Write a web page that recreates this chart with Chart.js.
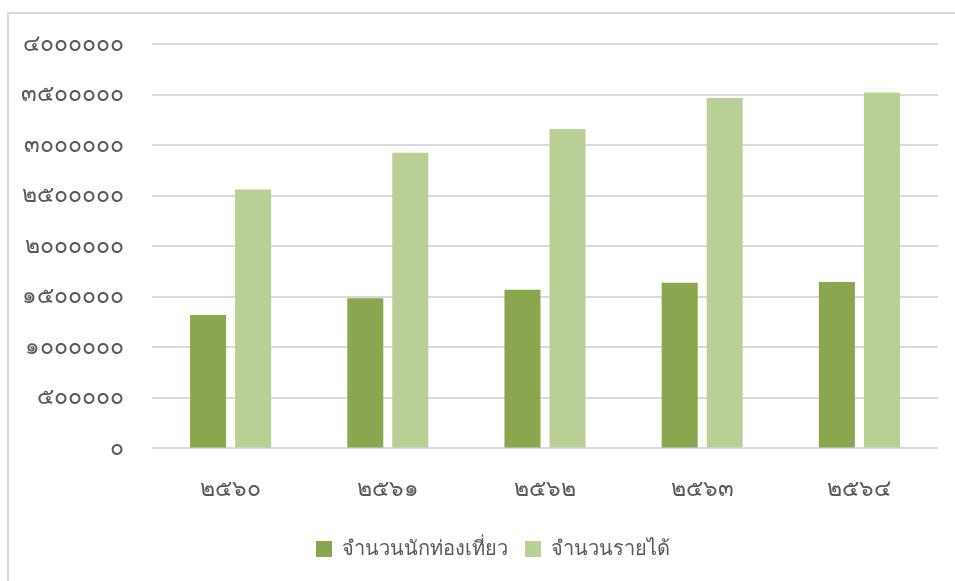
<!DOCTYPE html>
<html>
<head>
<meta charset="utf-8">
<script src="https://cdn.jsdelivr.net/npm/chart.js@4.4.1/dist/chart.umd.min.js"></script>
<style>
    html, body { margin: 0; padding: 0; background: #fff; }
    #frame {
        position: absolute; left: 7px; top: 12px; width: 960px; height: 580px;
        border-left: 2px solid #d9d9d9; border-top: 2px solid #d9d9d9;
    }
    #wrap { position: absolute; left: 0; top: 0; width: 955px; height: 581px; }
</style>
</head>
<body>
<div id="frame"></div>
<div id="wrap"><canvas id="chart"></canvas></div>
<script>
const years = ['๒๕๖๐', '๒๕๖๑', '๒๕๖๒', '๒๕๖๓', '๒๕๖๔'];
const tourists = [1320000, 1485000, 1570000, 1638000, 1645000];
const income = [2560000, 2925000, 3160000, 3465000, 3520000];
const seriesNames = ['จำนวนนักท่องเที่ยว', 'จำนวนรายได้'];

const thaiDigits = ['๐', '๑', '๒', '๓', '๔', '๕', '๖', '๗', '๘', '๙'];
const toThai = n => String(n).replace(/[0-9]/g, d => thaiDigits[d]);

const fontFamily = "'Noto Sans', 'DejaVu Sans', sans-serif";

new Chart(document.getElementById('chart'), {
    type: 'bar',
    data: {
        labels: years,
        datasets: [{
            label: seriesNames[0],
            data: tourists,
            backgroundColor: '#8aa64e'
        }, {
            label: seriesNames[1],
            data: income,
            backgroundColor: '#b9cf95'
        }]
    },
    options: {
        responsive: true,
        maintainAspectRatio: false,
        animation: false,
        layout: { padding: { top: 44, right: 17, bottom: 12, left: 48 } },
        datasets: {
            bar: { categoryPercentage: 0.573, barPercentage: 0.8 }
        },
        scales: {
            x: {
                grid: { display: false },
                border: { display: false },
                ticks: { color: '#595959', padding: 19, font: { family: fontFamily, size: 23 } }
            },
            y: {
                min: 0,
                max: 4000000,
                afterFit: axis => {
                    axis.width = 104;
                    // let the long labels run into the left padding
                    axis._computeLabelArea = () => undefined;
                },
                grid: { color: '#d9d9d9', lineWidth: 2, drawTicks: false },
                border: { display: false },
                ticks: {
                    stepSize: 500000,
                    padding: 28,
                    color: '#595959',
                    font: { family: fontFamily, size: 23 },
                    callback: v => toThai(v)
                }
            }
        },
        plugins: {
            tooltip: { enabled: false },
            legend: {
                position: 'bottom',
                labels: {
                    color: '#595959',
                    boxWidth: 16,
                    boxHeight: 16,
                    padding: 17,
                    font: { family: fontFamily, size: 20 }
                }
            }
        }
    }
});
</script>
</body>
</html>
